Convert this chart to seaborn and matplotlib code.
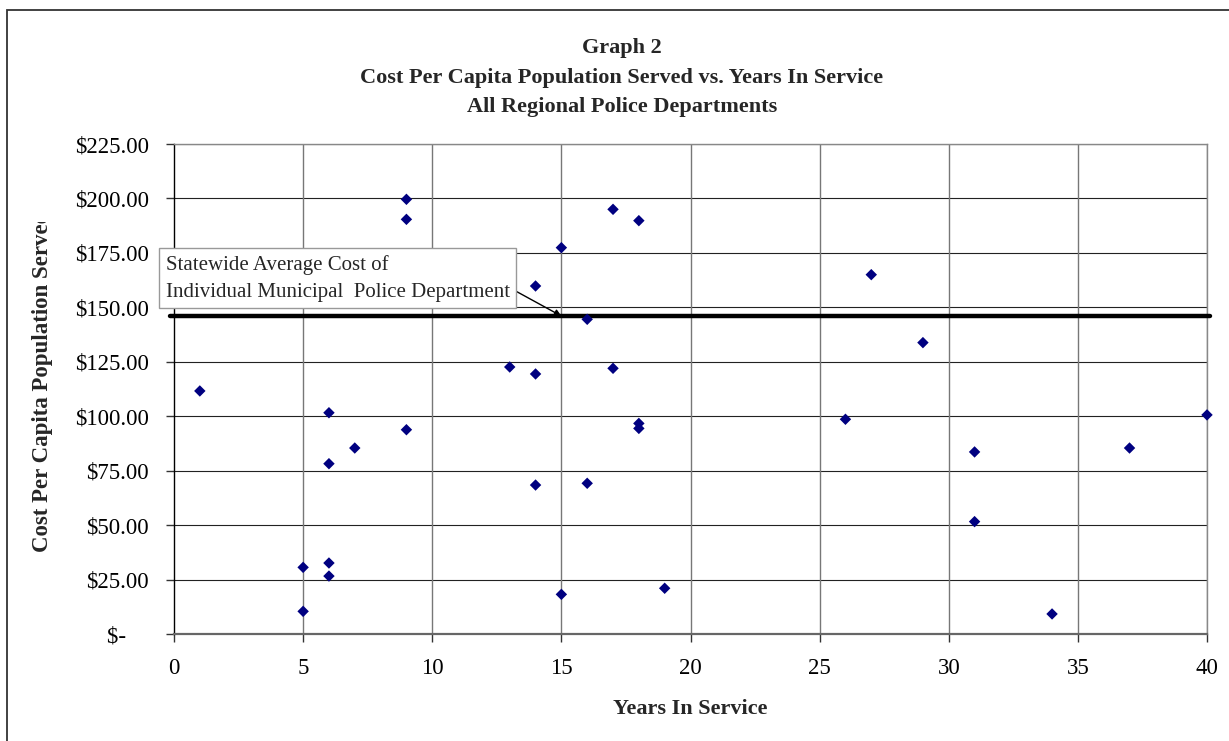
"""
Graph 2 - costo per capita vs. años en servicio (departamentos regionales)
"""
import matplotlib
matplotlib.use('Agg')
import matplotlib.pyplot as plt
from matplotlib.patches import Rectangle
from matplotlib.transforms import Bbox, TransformedBbox
import pandas as pd
import seaborn as sns

# Datos
years = [1, 5, 5, 6, 6, 6, 6, 7, 9, 9, 9, 13, 14, 14, 14, 15, 15, 16, 16,
         17, 17, 18, 18, 18, 19, 26, 27, 29, 31, 31, 34, 37, 40]
cost = [111.6, 30.6, 10.4, 101.6, 78.2, 32.6, 26.6, 85.4, 199.6, 190.4, 93.8,
        122.6, 159.8, 119.4, 68.4, 177.4, 18.2, 144.5, 69.2, 195.0, 122.0,
        189.8, 96.7, 94.4, 21.0, 98.6, 165.0, 133.8, 83.6, 51.6, 9.2, 85.4, 100.6]
statewide_avg = 146.0
x_ticks = [0, 5, 10, 15, 20, 25, 30, 35, 40]
y_ticks = [0, 25, 50, 75, 100, 125, 150, 175, 200, 225]
y_tick_labels = ['$-    ', '$25.00', '$50.00', '$75.00', '$100.00', '$125.00',
                 '$150.00', '$175.00', '$200.00', '$225.00']

df = pd.DataFrame({'years': years, 'cost': cost})

sns.set_style('white')
plt.rcParams['font.family'] = ['Liberation Serif', 'DejaVu Serif']

W, H = 1229, 741
fig = plt.figure(figsize=(W / 100, H / 100), dpi=100)
ax = fig.add_axes([174 / W, 1 - 634 / H, (1207 - 174) / W, (634 - 144) / H])

# borde exterior del grafico
fig.patches.append(Rectangle((7 / W, -0.1), 1.2, 1 - 10 / H + 0.1,
                             transform=fig.transFigure, fill=False,
                             ec='#333333', lw=1.3, zorder=0))

for v in y_ticks[1:]:
    ax.axhline(v, color='#222222', lw=0.8, zorder=1)
for v in x_ticks[1:]:
    ax.axvline(v, color='#777777', lw=1.0, zorder=1)

sns.scatterplot(data=df, x='years', y='cost', marker='D', s=34,
                color='#000080', edgecolor='none', ax=ax, zorder=4, clip_on=False)

ax.axhline(statewide_avg, color='black', lw=3.2, zorder=3, xmin=-0.004, xmax=1.003,
           clip_on=False)

ax.set_xlim(0, 40)
ax.set_ylim(0, 225)
ax.set_xticks(x_ticks)
ax.set_xticklabels([str(t) for t in x_ticks])
ax.set_yticks(y_ticks)
ax.set_yticklabels(y_tick_labels)
ax.tick_params(axis='both', which='both', direction='out', length=6, width=1,
               color='#333333', labelsize=16.5, labelcolor='black', pad=12)
ax.tick_params(axis='y', left=True)
ax.tick_params(axis='x', bottom=True, pad=11)
ax.set_xlabel('')
ax.set_ylabel('')

for side in ['top', 'right']:
    ax.spines[side].set_color('#888888')
    ax.spines[side].set_linewidth(1.0)
ax.spines['bottom'].set_color('#666666')
ax.spines['bottom'].set_linewidth(1.6)
ax.spines['left'].set_color('black')
ax.spines['left'].set_linewidth(1.0)

ax.annotate('Statewide Average Cost of\nIndividual Municipal  Police Department',
            xy=(15, statewide_avg), xytext=(6.34, 163.3), textcoords='data',
            ha='center', va='center', multialignment='left', fontsize=15,
            linespacing=1.6, annotation_clip=False, zorder=5,
            bbox=dict(boxstyle='square,pad=0.3', fc='white', ec='#999999', lw=1),
            arrowprops=dict(arrowstyle='-|>', color='black', lw=1.0,
                            mutation_scale=10, relpos=(1.0, 0.3),
                            shrinkA=0, shrinkB=0))

# titulo
fig.text(622 / W, 1 - 53 / H, 'Graph 2', ha='center', va='baseline',
         fontsize=16, fontweight='bold')
fig.text(622 / W, 1 - 83 / H, 'Cost Per Capita Population Served vs. Years In Service',
         ha='center', va='baseline', fontsize=16, fontweight='bold')
fig.text(622 / W, 1 - 112 / H, 'All Regional Police Departments',
         ha='center', va='baseline', fontsize=16, fontweight='bold')

fig.text(690 / W, 1 - 709 / H, 'Years In Service', ha='center', va='center',
         fontsize=16, fontweight='bold')

# etiqueta del eje y, recortada arriba como en el original
ylab = fig.text(43 / W, 1 - 552 / H, 'Cost Per Capita Population Served',
                ha='center', va='bottom', rotation=90, fontsize=16.5,
                fontweight='bold')
ylab.set_clip_box(TransformedBbox(Bbox([[0, 0], [1, 1 - 222 / H]]), fig.transFigure))
ylab.set_clip_on(True)

fig.savefig('out.png', dpi=100, facecolor='white')
